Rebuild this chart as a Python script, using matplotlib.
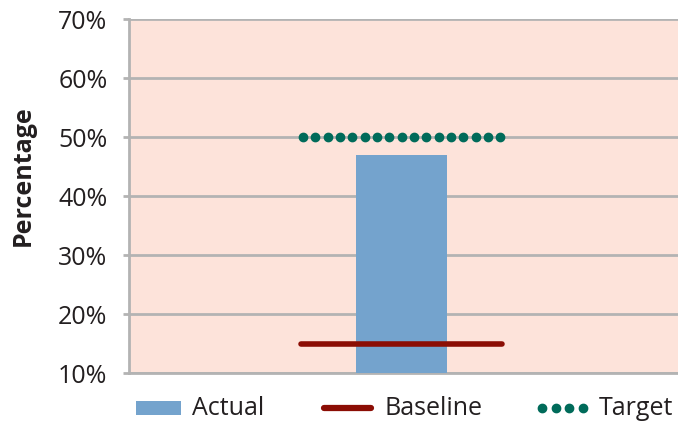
import matplotlib
matplotlib.use("Agg")
import matplotlib.pyplot as plt
from matplotlib.lines import Line2D
from matplotlib.patches import Rectangle
import numpy as np

categories = ["Actual"]
actual = [47]
baseline = [15]
target = [50]
yticks = [10, 20, 30, 40, 50, 60, 70]
ytick_labels = ["10%", "20%", "30%", "40%", "50%", "60%", "70%"]

plt.rcParams['font.family'] = ['Open Sans', 'DejaVu Sans']

W, H = 678, 423
fig = plt.figure(figsize=(W/100, H/100), dpi=100)
ax = fig.add_axes([129/W, 1-373/H, 1-129/W, (373-19)/H])

bg = "#fde3da"
grid_c = "#b3b3b3"
txt_c = "#231f20"
bar_c = "#74a3cd"
base_c = "#8b0d04"
tgt_c = "#006b5a"
FS = 18
ax.set_facecolor(bg)

x = np.arange(len(categories))
ax.bar(x, actual, width=0.5, color=bar_c, zorder=3)
for xi, b in zip(x, baseline):
    ax.plot([xi - 0.55, xi + 0.55], [b, b], color=base_c, lw=4, solid_capstyle="round", zorder=4)
for xi, t in zip(x, target):
    n = 17
    xs = np.linspace(xi - 0.54, xi + 0.54, n)
    ax.plot(xs, [t]*n, color=tgt_c, lw=0, marker="o", markersize=6, zorder=4)

ax.set_xlim(-1.49, 1.51)
ax.set_ylim(10, 70)
ax.set_yticks(yticks)
ax.set_yticklabels(ytick_labels, fontsize=FS, color=txt_c)
ax.set_xticks([])
ax.yaxis.grid(True, color=grid_c, lw=2, zorder=1)
ax.set_axisbelow(True)
for s in ["top", "right"]:
    ax.spines[s].set_visible(False)
for s in ["left", "bottom"]:
    ax.spines[s].set_color(grid_c)
    ax.spines[s].set_linewidth(2)
ax.tick_params(axis="y", length=4.5, width=2, color=grid_c, pad=11)
fig.text(23/W, 1-176/H, "Percentage", rotation=90, fontsize=FS, fontweight="bold",
         color=txt_c, ha="center", va="center")

# legend (manual, in figure pixel positions)
ly = 1 - 408/H
fig.add_artist(Rectangle((136/W, 1-415/H), 45/W, 14/H, transform=fig.transFigure,
                         facecolor=bar_c, edgecolor="none"))
fig.text(192/W, ly, "Actual", fontsize=FS, color=txt_c, va="center", ha="left")
fig.add_artist(Line2D([324/W, 371/W], [ly, ly], transform=fig.transFigure, color=base_c,
                      lw=4.5, solid_capstyle="round"))
fig.text(385/W, ly, "Baseline", fontsize=FS, color=txt_c, va="center", ha="left")
fig.add_artist(Line2D(np.linspace(542/W, 583/W, 4), [ly]*4, transform=fig.transFigure,
                      color=tgt_c, lw=0, marker="o", markersize=6))
fig.text(599/W, ly, "Target", fontsize=FS, color=txt_c, va="center", ha="left")

fig.savefig("out.png", dpi=100, facecolor="white")
